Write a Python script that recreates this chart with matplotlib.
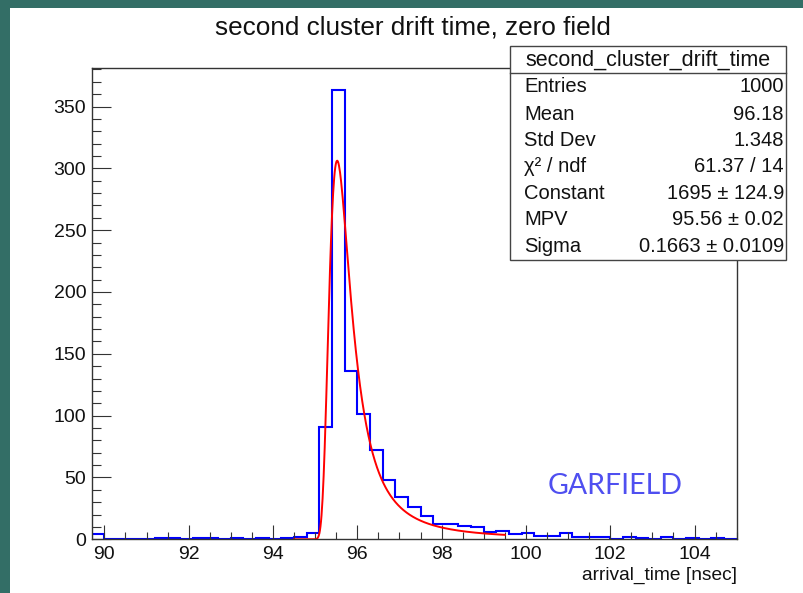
import numpy as np
import matplotlib
matplotlib.use("Agg")
import matplotlib.pyplot as plt
from matplotlib.patches import Rectangle
from matplotlib.ticker import MultipleLocator

plt.rcParams["font.family"] = ["Liberation Sans", "DejaVu Sans"]

# ---- histogram: second cluster drift time (0.3 ns bins from 89.7 to 105.0 ns)
x_low, x_high, n_bins = 89.7, 105.0, 51
counts = [
    4, 0, 0, 0, 0, 1, 1, 0, 1, 1,
    0, 1, 0, 1, 0, 1, 2, 5, 91, 363,
    136, 101, 72, 48, 34, 26, 19, 12, 12, 11,
    10, 6, 7, 4, 5, 3, 3, 5, 2, 2,
    2, 0, 2, 1, 0, 2, 0, 1, 0, 1,
    0,
]

# ---- Landau fit result
fit_constant = 1695.0
fit_mpv = 95.56
fit_sigma = 0.1663
fit_range = (94.5, 99.5)

stats_title = "second_cluster_drift_time"
stats_names = ["Entries", "Mean", "Std Dev", "χ² / ndf", "Constant", "MPV", "Sigma"]
stats_values = ["1000", "96.18", "1.348", "61.37 / 14",
                "1695 ± 124.9", "95.56 ± 0.02", "0.1663 ± 0.0109"]

x_ticks = [90, 92, 94, 96, 98, 100, 102, 104]
y_ticks = [0, 50, 100, 150, 200, 250, 300, 350]


def landau_density(lam):
    """Standard Landau density, (1/pi) * int_0^inf exp(-t ln t - lam t) sin(pi t) dt."""
    t = np.linspace(0.0, 60.0, 120001)
    h = t[1] - t[0]
    tlogt = np.zeros_like(t)
    tlogt[1:] = t[1:] * np.log(t[1:])
    w = np.ones_like(t)
    w[1:-1:2] = 4.0
    w[2:-1:2] = 2.0
    w *= h / 3.0
    s = np.sin(np.pi * t)
    out = np.zeros(len(lam))
    for i, l in enumerate(lam):
        if l < -3.8:
            continue
        out[i] = np.sum(w * np.exp(-tlogt - l * t) * s) / np.pi
    return out


W, H = 804, 593
fig = plt.figure(figsize=(W / 100, H / 100), dpi=100)
fig.patch.set_facecolor("#336e66")

# white canvas inside the teal border
fig.add_artist(Rectangle((10 / W, 0), 1 - 10 / W, 1 - 8 / H,
                         transform=fig.transFigure, facecolor="white",
                         edgecolor="none", zorder=0))

ax_l, ax_r, ax_t, ax_b = 91.7, 736.7, 68.0, 539.3
ax = fig.add_axes([ax_l / W, 1 - ax_b / H, (ax_r - ax_l) / W, (ax_b - ax_t) / H])
ax.set_facecolor("white")

edges = np.linspace(x_low, x_high, n_bins + 1)
ax.stairs(counts, edges, color="#0000ff", linewidth=1.5, baseline=0)

xf = np.linspace(fit_range[0], fit_range[1], 400)
yf = fit_constant * landau_density((xf - fit_mpv) / fit_sigma)
ax.plot(xf, yf, color="#ff0000", linewidth=1.4)

ax.set_xlim(x_low, x_high)
ax.set_ylim(0, max(counts) * 1.05)

ax.set_xticks(x_ticks)
ax.set_yticks(y_ticks)
ax.xaxis.set_minor_locator(MultipleLocator(0.5))
ax.yaxis.set_minor_locator(MultipleLocator(10))
ax.tick_params(which="both", direction="in", top=False, right=False,
               color="#333333", width=0.8, labelsize=14, labelcolor="#111111")
ax.tick_params(axis="x", which="major", length=10, pad=5)
ax.tick_params(axis="x", which="minor", length=5)
ax.tick_params(axis="y", which="major", length=13.5, pad=4)
ax.tick_params(axis="y", which="minor", length=6.8)
for sp in ax.spines.values():
    sp.set_color("#333333")
    sp.set_linewidth(1.0)

# title and axis label
fig.text(413 / W, 1 - 27 / H, "second cluster drift time, zero field",
         ha="center", va="center", fontsize=18.8, color="#111111")
fig.text(ax_r / W, 1 - 575 / H, "arrival_time [nsec]",
         ha="right", va="center", fontsize=13.8, color="#111111")

fig.text(615 / W, 1 - 486 / H, "GARFIELD", ha="center", va="center",
         fontsize=20.5, fontweight="normal", color="#4f4ff0",
         family=["Lato", "DejaVu Sans"])

# statistics box
bx0, bx1, by0, by1, bdiv = 510, 786, 46, 260, 73
fig.add_artist(Rectangle((bx0 / W, 1 - by1 / H), (bx1 - bx0) / W, (by1 - by0) / H,
                         transform=fig.transFigure, facecolor="white",
                         edgecolor="#444444", linewidth=1.0, zorder=5))
fig.add_artist(plt.Line2D([bx0 / W, bx1 / W], [1 - bdiv / H, 1 - bdiv / H],
                          transform=fig.transFigure, color="#444444",
                          linewidth=1.0, zorder=6))
fig.text((bx0 + bx1) / 2 / W, 1 - 60 / H, stats_title, ha="center", va="center",
         fontsize=15.5, color="#111111", zorder=7)
row_y = [87, 114, 140, 166, 193, 220, 246]
for name, val, yy in zip(stats_names, stats_values, row_y):
    fig.text(524 / W, 1 - yy / H, name, ha="left", va="center",
             fontsize=14.5, color="#111111", zorder=7)
    fig.text(784 / W, 1 - yy / H, val, ha="right", va="center",
             fontsize=14.5, color="#111111", zorder=7)

fig.savefig("out.png", dpi=100, facecolor=fig.get_facecolor())
